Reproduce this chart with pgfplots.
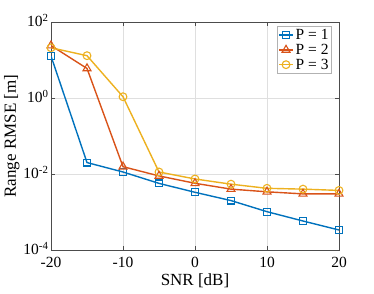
\documentclass[border=0pt]{standalone}
\usepackage{fontspec}
\setmainfont{Liberation Serif}
\usepackage{pgfplots}
\pgfplotsset{compat=1.18}
\definecolor{c1}{rgb}{0,0.447,0.741}
\definecolor{c2}{rgb}{0.85,0.325,0.098}
\definecolor{c3}{rgb}{0.929,0.694,0.125}
\begin{document}
\begin{tikzpicture}[x=1pt,y=1pt]
\useasboundingbox (0,0) rectangle (374,293);
\begin{axis}[
  at={(51pt,43pt)}, anchor=south west,
  scale only axis, width=288pt, height=228pt,
  ymode=log, xmin=-20, xmax=20, ymin=1e-4, ymax=1e2,
  xtick={-20,-10,0,10,20},
  ytick={1e-4,1e-2,1e0,1e2},
  log basis y=10,
  grid=both,
  major grid style={draw=gray!25, line width=0.4pt},
  minor grid style={draw=gray!15, line width=0.3pt, dotted},
  minor x tick num=0,
  tick align=inside,
  axis line style={draw=gray!60!black},
  tick style={draw=gray!60!black},
  ticklabel style={font=\fontsize{15.5}{15.5}\selectfont},
  xticklabel style={yshift=-4pt},
  yticklabel style={xshift=1pt, yshift=1.5pt},
  xticklabel={\pgfmathprintnumber[assume math mode=true]{\tick}},
  yticklabel={10\textsuperscript{\pgfmathprintnumber[assume math mode=true]{\tick}}},
  xlabel={SNR [dB]}, ylabel={Range RMSE [m]},
  label style={font=\fontsize{17}{17}\selectfont},
  xlabel style={yshift=1.5pt},
  ylabel style={yshift=-3pt},
  legend style={at={(0.975,0.982)}, anchor=north east, font=\fontsize{15.5}{15.5}\selectfont,
    draw=gray!60, inner sep=1pt, row sep=-1pt},
  legend cell align=left,
  legend image code/.code={\draw[mark repeat=2,mark phase=2] plot coordinates {(0pt,0pt)(7pt,0pt)(14pt,0pt)};},
  every axis plot/.append style={line width=1.4pt},
]
\addplot[c1, mark=square, mark size=3.4pt, mark options={solid, line width=1.1pt}] coordinates {
(-20,12.7) (-15,0.020) (-10,0.0113) (-5,0.00567) (0,0.0033) (5,0.0020) (10,0.00102) (15,0.00058) (20,0.000336)};
\addplot[c2, mark=triangle, mark size=4.6pt, mark options={solid, line width=1.1pt}] coordinates {
(-20,24) (-15,6.0) (-10,0.0156) (-5,0.0089) (0,0.0057) (5,0.0040) (10,0.0034) (15,0.0030) (20,0.0030)};
\addplot[c3, mark=o, mark size=3.9pt, mark options={solid, line width=1.1pt}] coordinates {
(-20,21) (-15,13) (-10,1.08) (-5,0.0113) (0,0.0074) (5,0.0054) (10,0.0042) (15,0.0040) (20,0.0037)};
\legend{P = 1, P = 2, P = 3}
\end{axis}
\end{tikzpicture}
\end{document}
